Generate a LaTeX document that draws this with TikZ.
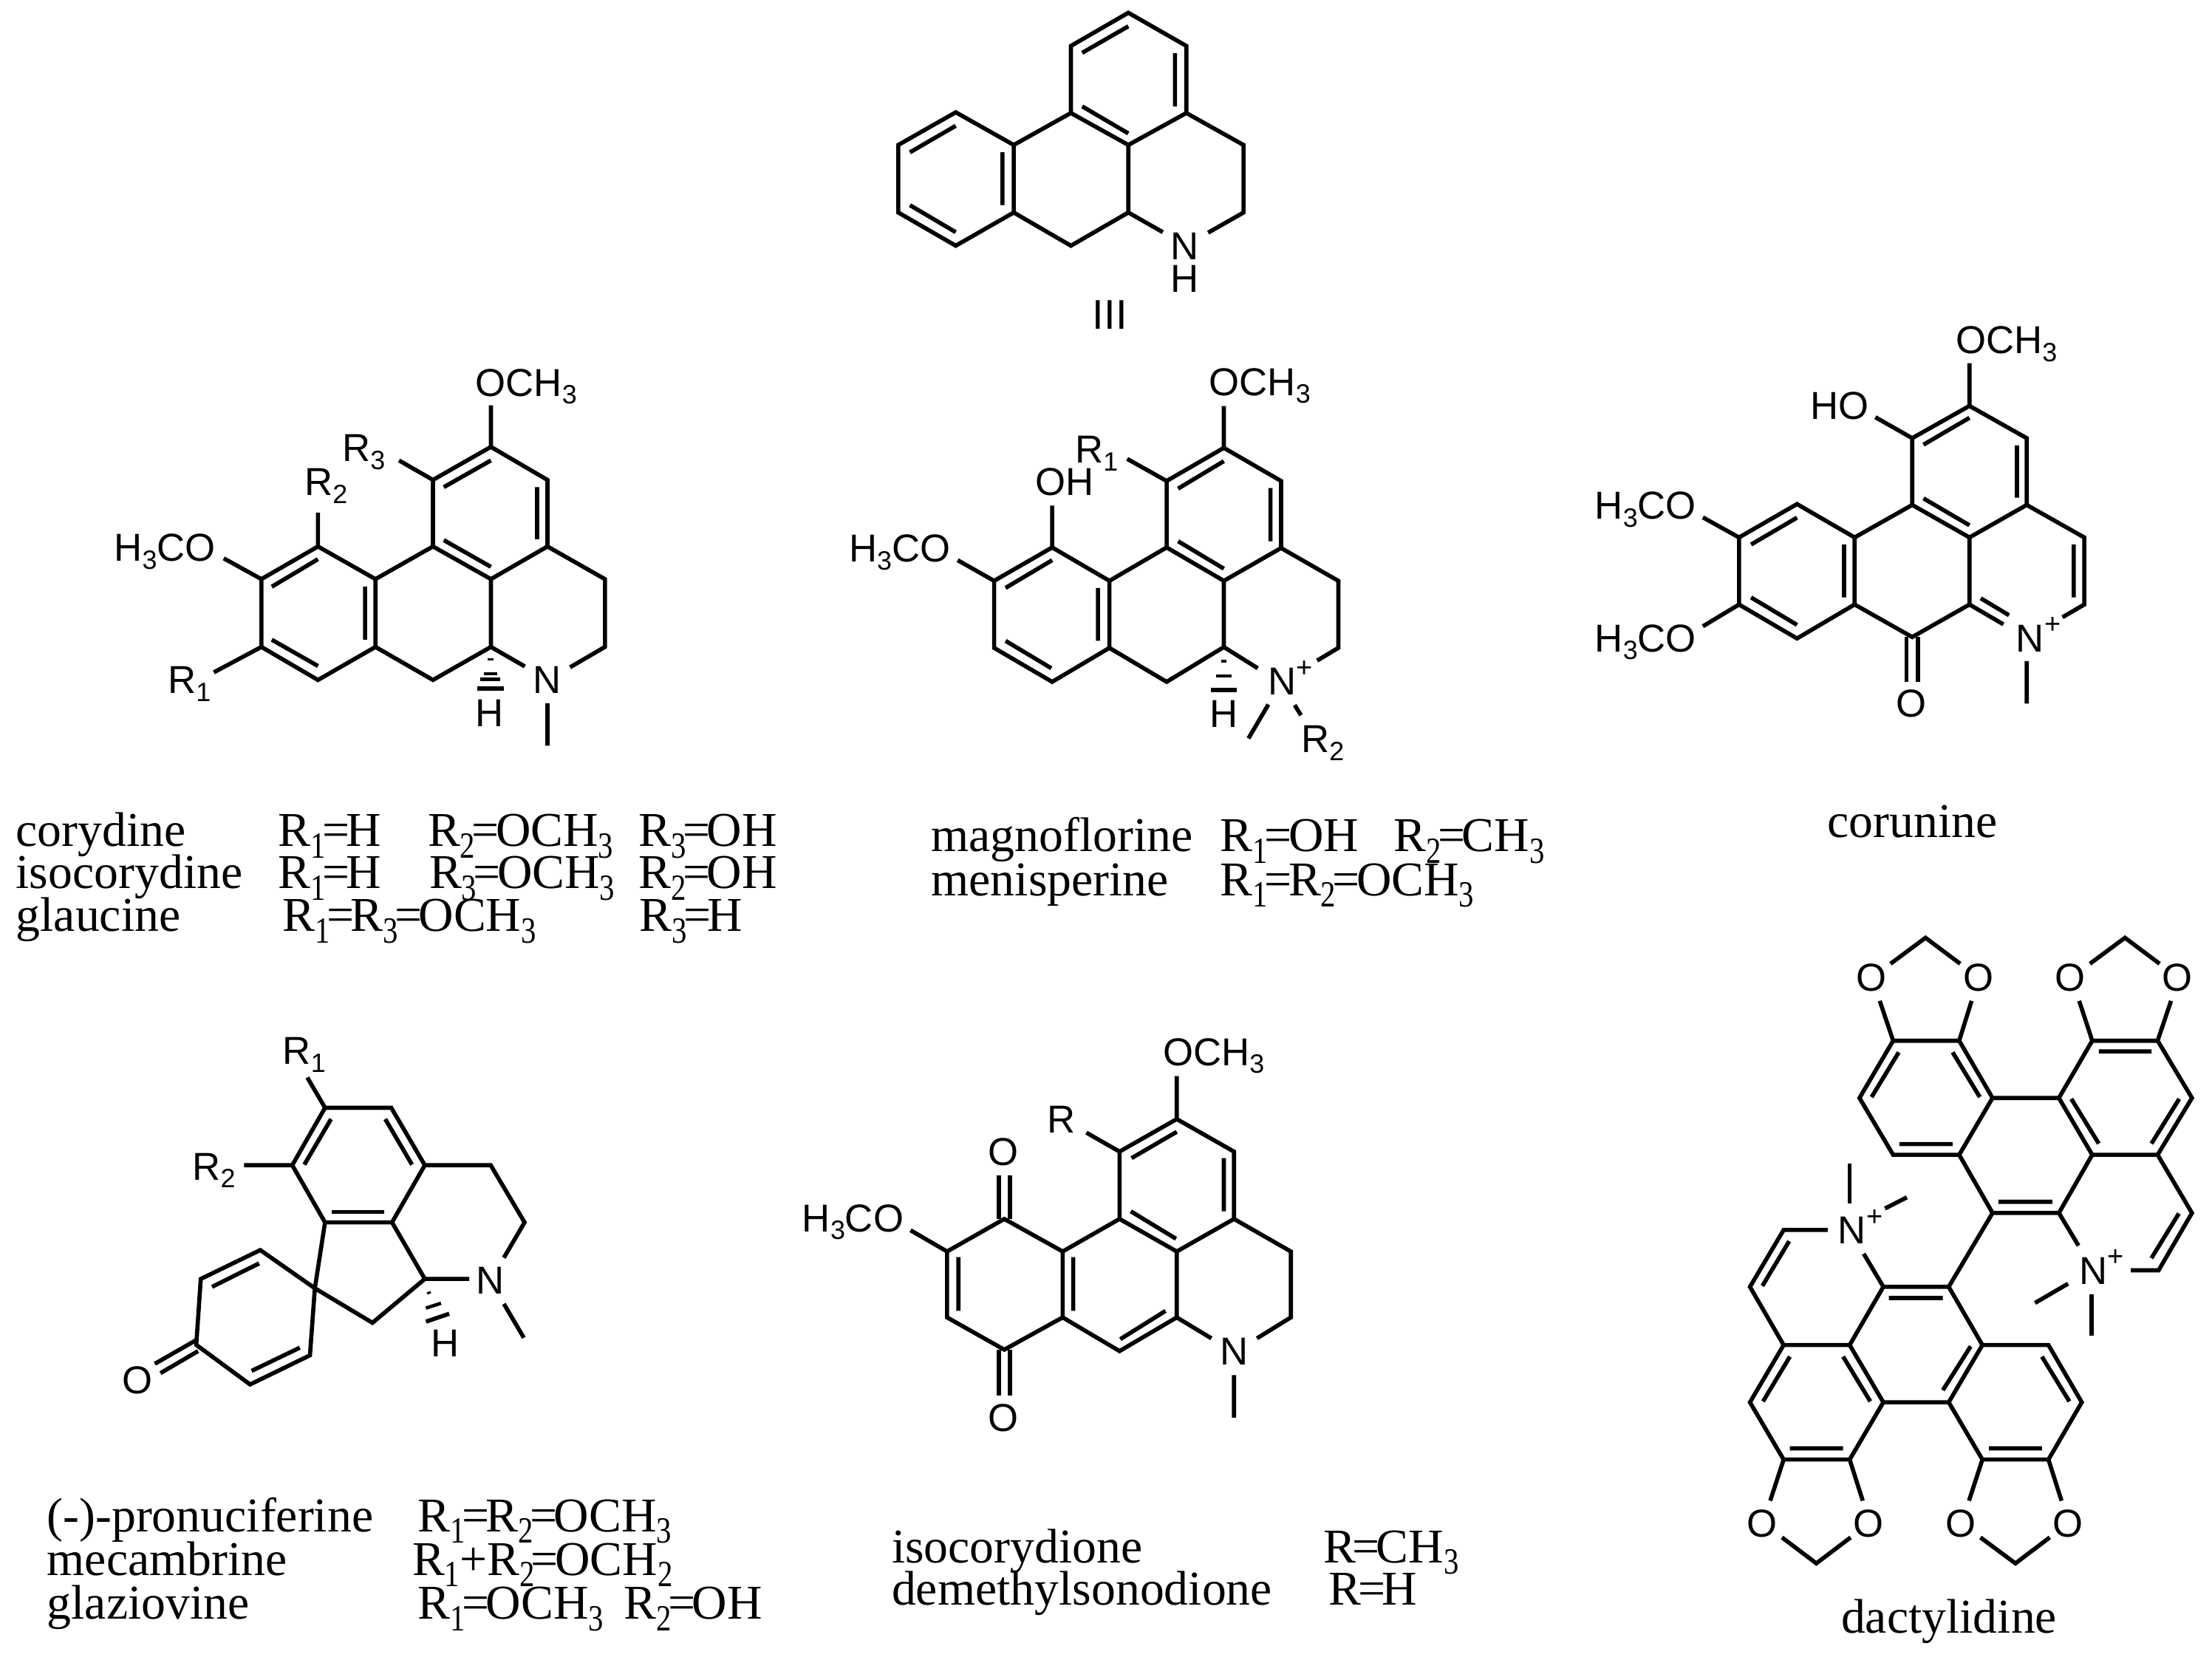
\documentclass[tikz,border=0pt]{standalone}
\usepackage{fontspec}
\setmainfont{Liberation Serif}
\newfontfamily\arialf{Liberation Sans}
\newcommand{\sbb}[1]{\raisebox{-.2em}{\scalebox{.68}{#1}}}
\newcommand{\cs}[1]{\raisebox{-.24em}{\scalebox{.62}[.76]{#1}}}
\newcommand{\eqq}{\kern-.07em=\kern-.07em}
\newcommand{\plusup}{\kern.01em\raisebox{.46em}{\scalebox{.72}{+}}}
\tikzset{
  bond/.style={draw=black,line width=1.6pt,line cap=butt,line join=miter},
  lab/.style={inner sep=0pt,anchor=base,font=\arialf\fontsize{15}{18}\selectfont},
  labw/.style={inner sep=0pt,anchor=base west,font=\arialf\fontsize{15}{18}\selectfont},
  capt/.style={inner sep=0pt,anchor=base west,font=\fontsize{18.7}{22}\selectfont},
  captc/.style={inner sep=0pt,anchor=base,font=\fontsize{18.7}{22}\selectfont},
}
\begin{document}
\begin{tikzpicture}
\useasboundingbox (0,0) rectangle (29.94,-22.47);

% ---------- III ----------
\begin{scope}[shift={(11.5,0)},x=.003827cm,y=-.003333cm]
\draw[bond] (375,457)--(172,590)--(172,865)--(375,1000)--(580,865)--(580,590)--cycle;
\draw[bond] (580,590)--(782,460)--(985,590)--(985,865)--(782,1000)--(580,865);
\draw[bond] (782,460)--(782,187)--(985,52)--(1190,187)--(1190,460)--(985,590);
\draw[bond] (1190,460)--(1392,590)--(1392,865)--(1267,947);
\draw[bond] (985,865)--(1107,945);
\draw[bond] (375,512)--(213,620) (213,835)--(375,945) (540,620)--(540,835) (822,433)--(985,543) (822,215)--(985,107) (1150,217)--(1150,433);
\node[lab] (t1) at (1185,1057) {N};
\node[lab] (t2) at (1185,1190) {H};
\node[lab,font=\arialf\fontsize{16}{18}\selectfont] (t3) at (920,1340) {III};
\end{scope}

% ---------- corydine ----------
\begin{scope}[shift={(1,-4.5)},x=.006378cm,y=-.00574cm]
\draw[bond] (518,505)--(398,582)--(398,742)--(518,820)--(640,742)--(640,582)--cycle;
\draw[bond] (640,582)--(762,505)--(885,582)--(885,742)--(762,820)--(640,742);
\draw[bond] (762,505)--(762,348)--(885,270)--(1005,348)--(1005,505)--(885,582);
\draw[bond] (1005,505)--(1127,582)--(1127,742)--(1053,790);
\draw[bond] (885,742)--(957,788);
\draw[bond] (518,535)--(420,600) (420,725)--(518,787) (618,600)--(618,725) (785,365)--(885,302) (983,365)--(983,488) (785,490)--(885,553);
\draw[bond] (885,270)--(885,172) (762,348)--(690,302) (518,505)--(518,425) (398,582)--(318,533) (398,742)--(297,802) (1005,875)--(1005,975);
\draw[bond,line width=.9pt] (878,772)--(890,772);
\draw[bond,line width=1.2pt] (870,805)--(898,805);
\draw[bond,line width=1.4pt] (862,818)--(905,818);
\draw[bond,line width=1.6pt] (856,840)--(912,840);
\node[lab] (a1) at (960,150) {OCH\sbb{3}};
\node[lab] (a2) at (615,305) {R\sbb{3}};
\node[lab] (a3) at (535,385) {R\sbb{2}};
\node[lab] (a4) at (193,540) {H\sbb{3}CO};
\node[lab] (a5) at (245,852) {R\sbb{1}};
\node[lab] (a6) at (1005,852) {N};
\node[lab] (a7) at (882,930) {H};
\end{scope}

% ---------- magnoflorine ----------
\begin{scope}[shift={(11,-4.5)},x=.00574cm,y=-.003827cm]
\draw[bond] (565,760)--(428,878)--(428,1115)--(565,1235)--(700,1115)--(700,878)--cycle;
\draw[bond] (700,878)--(835,760)--(970,878)--(970,1112)--(835,1235)--(700,1115);
\draw[bond] (835,760)--(835,525)--(970,408)--(1105,525)--(1105,762)--(970,878);
\draw[bond] (1105,762)--(1240,878)--(1240,1115)--(1190,1160);
\draw[bond] (970,1112)--(1050,1187);
\draw[bond] (565,805)--(455,903) (455,1090)--(563,1187) (673,903)--(673,1090) (862,552)--(970,455) (1080,550)--(1080,738) (862,738)--(970,835);
\draw[bond] (970,408)--(970,260) (835,525)--(742,447) (565,760)--(565,612) (428,878)--(342,805) (1075,1315)--(1028,1435) (1137,1317)--(1152,1353);
\draw[bond,line width=.9pt] (964,1162)--(976,1162);
\draw[bond,line width=1.3pt] (952,1214)--(988,1214);
\draw[bond,line width=1.8pt] (940,1263)--(1000,1263);
\node[lab] (b1) at (1055,222) {OCH\sbb{3}};
\node[lab] (b2) at (670,462) {R\sbb{1}};
\node[lab] (b3) at (595,575) {OH};
\node[lab] (b4) at (205,812) {H\sbb{3}CO};
\node[labw] (b5) at (1073,1282) {N\plusup};
\node[lab] (b6) at (970,1395) {H};
\node[lab] (b7) at (1203,1485) {R\sbb{2}};
\end{scope}

% ---------- corunine ----------
\begin{scope}[shift={(21,-4.2)},x=.005102cm,y=-.003827cm]
\draw[bond] (652,685)--(498,803)--(498,1040)--(652,1160)--(805,1040)--(805,803)--cycle;
\draw[bond] (805,803)--(958,688)--(1110,803)--(1110,1040)--(958,1155)--(805,1040);
\draw[bond] (958,688)--(958,452)--(1110,338)--(1262,452)--(1262,688)--(1110,803);
\draw[bond] (1262,688)--(1415,803)--(1415,1040)--(1357,1085);
\draw[bond] (1110,1040)--(1200,1110) (1140,1018)--(1215,1078);
\draw[bond] (652,733)--(530,828) (530,1015)--(652,1112) (777,828)--(777,1015) (988,475)--(1110,380) (1236,478)--(1236,662) (988,665)--(1110,760) (1387,828)--(1387,1015);
\draw[bond] (943,1155)--(943,1313) (973,1155)--(973,1313);
\draw[bond] (1110,338)--(1110,187) (958,452)--(860,378) (498,803)--(402,732) (498,1040)--(402,1117) (1262,1240)--(1262,1390);
\node[lab] (c1) at (1208,153) {OCH\sbb{3}};
\node[lab] (c2) at (765,385) {HO};
\node[lab] (c3) at (250,738) {H\sbb{3}CO};
\node[lab] (c4) at (250,1207) {H\sbb{3}CO};
\node[lab] (c5) at (955,1438) {O};
\node[labw] (c6) at (1232,1207) {N\plusup};
\end{scope}

% ---------- pronuciferine ----------
\begin{scope}[shift={(1,-13.8)},x=.005102cm,y=-.003827cm]
\draw[bond] (667,312)--(843,312)--(932,515)--(845,717)--(667,717)--(580,515)--cycle;
\draw[bond] (612,513)--(683,352) (827,352)--(898,513);
\draw[bond] (685,680)--(825,680);
\draw[bond] (932,515)--(1107,515)--(1197,717)--(1142,842);
\draw[bond] (667,717)--(640,950)--(793,1072)--(932,917)--(845,717);
\draw[bond] (932,917)--(1050,917) (1142,1005)--(1195,1125);
\draw[bond] (640,950)--(495,815)--(337,917)--(325,1150)--(468,1290)--(627,1187)--cycle;
\draw[bond] (492,862)--(367,945) (600,1160)--(472,1242);
\draw[bond] (325,1133)--(215,1217) (330,1172)--(230,1250);
\draw[bond] (667,312)--(620,205) (580,515)--(452,515);
\draw[bond,line width=.9pt] (938,968)--(948,964);
\draw[bond,line width=1.3pt] (935,1020)--(975,1003);
\draw[bond,line width=1.6pt] (935,1068)--(997,1040);
\node[lab] (d1) at (612,158) {R\sbb{1}};
\node[lab] (d2) at (372,567) {R\sbb{2}};
\node[lab] (d3) at (1105,970) {N};
\node[lab] (d4) at (987,1193) {H};
\node[lab] (d5) at (168,1322) {O};
\end{scope}

% ---------- isocorydione ----------
\begin{scope}[shift={(10.5,-13.8)},x=.005102cm,y=-.003827cm]
\draw[bond] (607,705)--(455,820)--(455,1053)--(607,1167)--(762,1053)--(762,820)--cycle;
\draw[bond] (762,820)--(913,705)--(1065,820)--(1065,1053)--(913,1172)--(762,1053);
\draw[bond] (913,705)--(913,467)--(1065,352)--(1217,467)--(1217,705)--(1065,820);
\draw[bond] (1217,705)--(1368,820)--(1368,1053)--(1278,1127);
\draw[bond] (1065,1053)--(1157,1127);
\draw[bond] (485,840)--(485,1030) (790,840)--(790,1030) (943,678)--(1063,775) (915,1130)--(1035,1030) (945,490)--(1065,397) (1190,490)--(1190,678);
\draw[bond] (592,705)--(592,552) (622,705)--(622,552) (592,1167)--(592,1330) (622,1167)--(622,1330);
\draw[bond] (1065,352)--(1065,200) (913,467)--(825,400) (455,820)--(358,745) (1217,1257)--(1217,1407);
\node[lab] (e1) at (1163,163) {OCH\sbb{3}};
\node[lab] (e2) at (758,400) {R};
\node[lab] (e3) at (205,750) {H\sbb{3}CO};
\node[lab] (e4) at (605,515) {O};
\node[lab] (e5) at (605,1457) {O};
\node[lab] (e6) at (1217,1222) {N};
\end{scope}

% ---------- dactylidine ----------
\begin{scope}[shift={(23,-12.5)},x=.004426cm,y=-.006059cm]
\draw[bond] (593,262)--(795,262)--(897,390)--(795,517)--(593,517)--(490,390)--cycle;
\draw[bond] (610,288)--(527,388) (775,288)--(858,388) (612,493)--(775,493);
\draw[bond] (897,390)--(1100,390)--(1202,517)--(1100,647)--(897,647)--(795,517);
\draw[bond] (1138,392)--(1222,492) (915,622)--(1080,622);
\draw[bond] (1100,390)--(1202,262)--(1402,262)--(1507,390)--(1402,517)--(1202,517);
\draw[bond] (1222,286)--(1383,286) (1468,392)--(1383,492);
\draw[bond] (1402,517)--(1507,647)--(1405,775)--(1320,775) (1100,647)--(1160,720) (1467,648)--(1383,748);
\draw[bond] (1128,805)--(1027,848);
\draw[bond] (1200,828)--(1200,922);
\draw[bond] (897,647)--(763,812);
\draw[bond] (563,812)--(763,812)--(866,942)--(763,1070)--(563,1070)--(460,942)--cycle;
\draw[bond] (580,837)--(745,837) (830,945)--(745,1043) (440,968)--(523,1068);
\draw[bond] (460,942)--(258,942)--(155,812)--(258,685)--(393,685) (563,812)--(503,738) (275,710)--(193,810);
\draw[bond] (460,537)--(460,625);
\draw[bond] (568,637)--(635,612);
\draw[bond] (258,942)--(155,1070)--(258,1198)--(460,1198)--(563,1070);
\draw[bond] (277,968)--(195,1068) (277,1173)--(440,1173);
\draw[bond] (866,942)--(1068,942)--(1170,1070)--(1068,1198)--(866,1198)--(763,1070);
\draw[bond] (1048,968)--(1132,1068) (886,1173)--(1048,1173);
\draw[bond] (593,262)--(552,173) (795,262)--(833,173) (585,90)--(692,32)--(798,90);
\draw[bond] (1202,262)--(1162,173) (1402,262)--(1443,173) (1195,90)--(1302,32)--(1408,90);
\draw[bond] (258,1198)--(217,1290) (460,1198)--(500,1290) (253,1372)--(358,1430)--(463,1372);
\draw[bond] (866,1198)--(825,1290) (1068,1198)--(1108,1290) (860,1372)--(967,1430)--(1072,1372);
\node[lab] (f1) at (527,151) {O};
\node[lab] (f2) at (855,151) {O};
\node[lab] (f3) at (1135,151) {O};
\node[lab] (f4) at (1463,151) {O};
\node[lab] (f5) at (192,1371) {O};
\node[lab] (f6) at (518,1371) {O};
\node[lab] (f7) at (800,1371) {O};
\node[lab] (f8) at (1128,1371) {O};
\node[labw] (f9) at (422,716) {N\plusup};
\node[labw] (f10) at (1160,806) {N\plusup};
\end{scope}

% ---------- captions ----------
\begin{scope}[x=.019094cm,y=-.019094cm]
\node[capt] (g1) at (11,600) {corydine};
\node[capt] (g2) at (197,600) {R\cs{1}\eqq H};
\node[capt] (g3) at (303,600) {R\cs{2}\eqq OCH\cs{3}};
\node[capt] (g4) at (452.6,600) {R\cs{3}\eqq OH};
\node[capt] (g5) at (11,630) {isocorydine};
\node[capt] (g6) at (197,630) {R\cs{1}\eqq H};
\node[capt] (g7) at (304,630) {R\cs{3}\eqq OCH\cs{3}};
\node[capt] (g8) at (452.6,630) {R\cs{2}\eqq OH};
\node[capt] (g9) at (11,660.5) {glaucine};
\node[capt] (g10) at (200,660.5) {R\cs{1}\eqq R\cs{3}\eqq OCH\cs{3}};
\node[capt] (g11) at (453,660.5) {R\cs{3}\eqq H};
\node[capt] (h1) at (660,604) {magnoflorine};
\node[capt] (h2) at (865,604) {R\cs{1}\eqq OH};
\node[capt] (h3) at (988,604) {R\cs{2}\eqq CH\cs{3}};
\node[capt] (h4) at (660,635) {menisperine};
\node[capt] (h5) at (865,635) {R\cs{1}\eqq R\cs{2}\eqq OCH\cs{3}};
\node[captc] (i1) at (1356,594) {corunine};
\node[capt] (j1) at (33,1086) {(-)-pronuciferine};
\node[capt] (j2) at (296,1086) {R\cs{1}\eqq R\cs{2}\eqq OCH\cs{3}};
\node[capt] (j3) at (33,1117) {mecambrine};
\node[capt] (j4) at (292,1117) {R\cs{1}+R\cs{2}\eqq OCH\cs{2}};
\node[capt] (j5) at (33,1148) {glaziovine};
\node[capt] (j6) at (296,1148) {R\cs{1}\eqq OCH\cs{3}};
\node[capt] (j7) at (442,1148) {R\cs{2}\eqq OH};
\node[capt] (k1) at (632,1108) {isocorydione};
\node[capt] (k2) at (938,1108) {R\eqq CH\cs{3}};
\node[capt] (k3) at (632,1138) {demethylsonodione};
\node[capt] (k4) at (942,1138) {R\eqq H};
\node[captc] (l1) at (1382,1158) {dactylidine};
\end{scope}
\end{tikzpicture}
\end{document}
